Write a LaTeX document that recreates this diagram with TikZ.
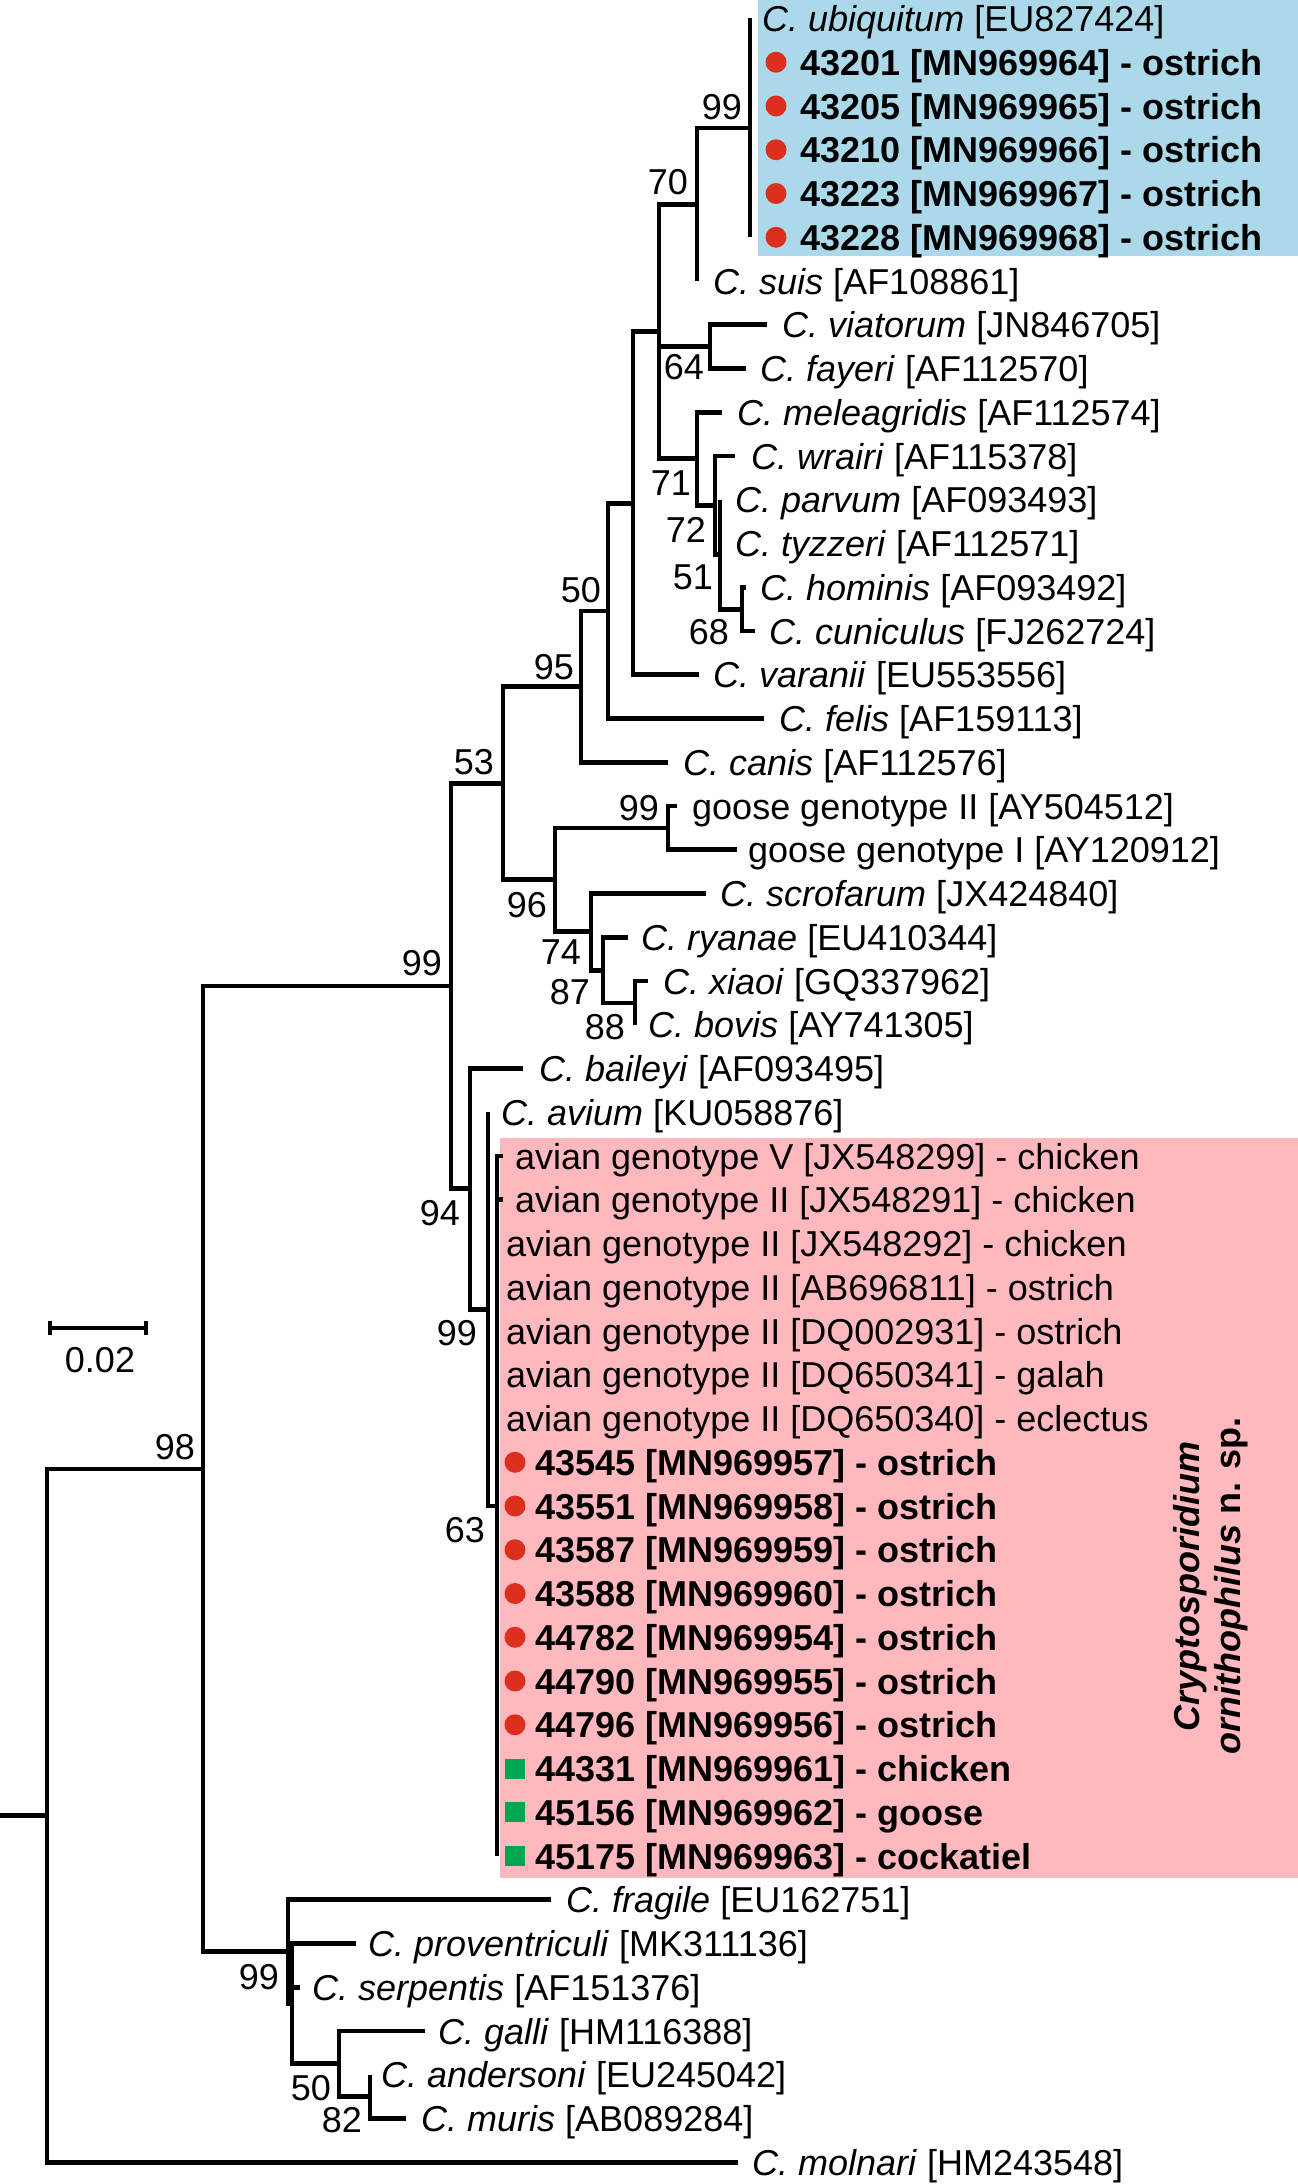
\documentclass[tikz,border=0pt]{standalone}
\usepackage{fontspec}
\setmainfont{Liberation Sans}
\usetikzlibrary{calc}

\definecolor{ubiblue}{RGB}{172,217,234}
\definecolor{orniPink}{RGB}{255,185,190}
\definecolor{dotred}{RGB}{220,47,30}
\definecolor{sqgreen}{RGB}{0,166,81}

\newcommand{\tipfont}{\fontsize{36}{41}\selectfont}
% one taxon: row, end of branch, start of label, text
\newcommand{\tip}[4]{%
  \pgfmathsetmacro{\ty}{18.5+43.75*#1}
  \coordinate (t#1) at (#2,\ty);
  \node[tiplab] (l#1) at (#3,\ty+13) {#4};
}

\begin{document}
\begin{tikzpicture}[x=1pt, y=-1pt,
    branch/.style={line width=4.8pt, line join=miter},
    tiplab/.style={anchor=base west, inner sep=0pt, font=\tipfont},
    bs/.style={anchor=east, inner sep=0pt, font=\tipfont}]
    \useasboundingbox (0,0) rectangle (1298,2184);

    % Shaded clades
    \fill[ubiblue] (758,0) rectangle (1298,256);
    \fill[orniPink] (500,1138) rectangle (1298,1878);

    % Internal nodes
    \coordinate (base) at (0,1815.6);
    \coordinate (root) at (47,1815.6);
    \coordinate (n98)  at (203,1468.9);
    \coordinate (n99b) at (451,986);
    \coordinate (n53)  at (503,783.2);
    \coordinate (n95)  at (581,686.6);
    \coordinate (n50)  at (608,610.9);
    \coordinate (nP)   at (633,503.2);
    \coordinate (nN)   at (659,331.6);
    \coordinate (n70)  at (697,204.4);
    \coordinate (n99u) at (750,127.9);
    \coordinate (n64)  at (710,346.6);
    \coordinate (n71)  at (697,458.7);
    \coordinate (nW)   at (715,505.2);
    \coordinate (n72)  at (720,554.4);
    \coordinate (n68)  at (742,609.1);
    \coordinate (n96)  at (555,879.8);
    \coordinate (n99g) at (668,827.9);
    \coordinate (n74)  at (591,931.8);
    \coordinate (n87)  at (603,970.1);
    \coordinate (n88)  at (635,1002.9);
    \coordinate (n94)  at (470,1188.8);
    \coordinate (n99a) at (488,1309.1);
    \coordinate (n63)  at (497,1506);
    \coordinate (n99f) at (288,1951.7);
    \coordinate (nY)   at (292,2003.7);
    \coordinate (nG)   at (339,2063.8);
    \coordinate (nAM)  at (370,2096.6);

    % Taxa
    \tip{0}{750}{762}{\textit{C. ubiquitum} [EU827424]}
    \tip{1}{750}{800}{\textbf{43201 [MN969964] - ostrich}}
    \tip{2}{750}{800}{\textbf{43205 [MN969965] - ostrich}}
    \tip{3}{750}{800}{\textbf{43210 [MN969966] - ostrich}}
    \tip{4}{750}{800}{\textbf{43223 [MN969967] - ostrich}}
    \tip{5}{750}{800}{\textbf{43228 [MN969968] - ostrich}}
    \tip{6}{697}{713}{\textit{C. suis} [AF108861]}
    \tip{7}{767}{782}{\textit{C. viatorum} [JN846705]}
    \tip{8}{746}{760}{\textit{C. fayeri} [AF112570]}
    \tip{9}{722}{737}{\textit{C. meleagridis} [AF112574]}
    \tip{10}{735}{751}{\textit{C. wrairi} [AF115378]}
    \tip{11}{720}{735}{\textit{C. parvum} [AF093493]}
    \tip{12}{720}{735}{\textit{C. tyzzeri} [AF112571]}
    \tip{13}{746}{760}{\textit{C. hominis} [AF093492]}
    \tip{14}{755}{769}{\textit{C. cuniculus} [FJ262724]}
    \tip{15}{699}{713}{\textit{C. varanii} [EU553556]}
    \tip{16}{764}{779}{\textit{C. felis} [AF159113]}
    \tip{17}{668}{683}{\textit{C. canis} [AF112576]}
    \tip{18}{677}{692}{goose genotype II [AY504512]}
    \tip{19}{737}{748}{goose genotype I [AY120912]}
    \tip{20}{706}{720}{\textit{C. scrofarum} [JX424840]}
    \tip{21}{628}{641}{\textit{C. ryanae} [EU410344]}
    \tip{22}{648}{663}{\textit{C. xiaoi} [GQ337962]}
    \tip{23}{635}{648}{\textit{C. bovis} [AY741305]}
    \tip{24}{523}{539}{\textit{C. baileyi} [AF093495]}
    \tip{25}{488}{501}{\textit{C. avium} [KU058876]}
    \tip{26}{503}{515}{avian genotype V [JX548299] - chicken}
    \tip{27}{503}{515}{avian genotype II [JX548291] - chicken}
    \tip{28}{497}{506}{avian genotype II [JX548292] - chicken}
    \tip{29}{497}{506}{avian genotype II [AB696811] - ostrich}
    \tip{30}{497}{506}{avian genotype II [DQ002931] - ostrich}
    \tip{31}{497}{506}{avian genotype II [DQ650341] - galah}
    \tip{32}{497}{506}{avian genotype II [DQ650340] - eclectus}
    \tip{33}{497}{535}{\textbf{43545 [MN969957] - ostrich}}
    \tip{34}{497}{535}{\textbf{43551 [MN969958] - ostrich}}
    \tip{35}{497}{535}{\textbf{43587 [MN969959] - ostrich}}
    \tip{36}{497}{535}{\textbf{43588 [MN969960] - ostrich}}
    \tip{37}{497}{535}{\textbf{44782 [MN969954] - ostrich}}
    \tip{38}{497}{535}{\textbf{44790 [MN969955] - ostrich}}
    \tip{39}{497}{535}{\textbf{44796 [MN969956] - ostrich}}
    \tip{40}{497}{535}{\textbf{44331 [MN969961] - chicken}}
    \tip{41}{497}{535}{\textbf{45156 [MN969962] - goose}}
    \tip{42}{497}{535}{\textbf{45175 [MN969963] - cockatiel}}
    \tip{43}{551}{566}{\textit{C. fragile} [EU162751]}
    \tip{44}{356}{368}{\textit{C. proventriculi} [MK311136]}
    \tip{45}{300}{312}{\textit{C. serpentis} [AF151376]}
    \tip{46}{425}{438}{\textit{C. galli} [HM116388]}
    \tip{47}{370}{381}{\textit{C. andersoni} [EU245042]}
    \tip{48}{406}{421}{\textit{C. muris} [AB089284]}
    \tip{49}{738}{752}{\textit{C. molnari} [HM243548]}

    % Backbone
    \draw[branch] (base) -- (root);
    \draw[branch] (root) |- (n98);
    \draw[branch] (root) |- (t49);
    \draw[branch] (n98) |- (n99b);
    \draw[branch] (n98) |- (n99f);

    % C. fragile group
    \draw[branch] (n99f) |- (t43);
    \draw[branch] (n99f) |- (nY);
    \foreach \c in {t44,t45,nG}
        \draw[branch] (nY) |- (\c);
    \draw[branch] (nG) |- (t46);
    \draw[branch] (nG) |- (nAM);
    \draw[branch] (nAM) -- (t47);
    \draw[branch] (nAM) |- (t48);

    % intestinal and gastric species
    \draw[branch] (n99b) |- (n53);
    \draw[branch] (n99b) |- (n94);
    \draw[branch] (n53) |- (n95);
    \draw[branch] (n53) |- (n96);
    \draw[branch] (n95) |- (n50);
    \draw[branch] (n95) |- (t17);
    \draw[branch] (n50) |- (nP);
    \draw[branch] (n50) |- (t16);
    \draw[branch] (nP) |- (nN);
    \draw[branch] (nP) |- (t15);
    \foreach \c in {n70,n64,n71}
        \draw[branch] (nN) |- (\c);
    \draw[branch] (n70) |- (n99u);
    \draw[branch] (n70) -- (t6);
    \foreach \c in {t0,t5}
        \draw[branch] (n99u) -- (\c);
    \draw[branch] (n64) |- (t7);
    \draw[branch] (n64) |- (t8);
    \draw[branch] (n71) |- (t9);
    \draw[branch] (n71) |- (nW);
    \draw[branch] (nW) |- (t10);
    \draw[branch] (nW) |- (n72);
    \draw[branch] (n72) -- (t11);
    \draw[branch] (n72) |- (n68);
    \draw[branch] (n68) |- (t13);
    \draw[branch] (n68) |- (t14);
    \draw[branch] (n96) |- (n99g);
    \draw[branch] (n96) |- (n74);
    \draw[branch] (n99g) |- (t18);
    \draw[branch] (n99g) |- (t19);
    \draw[branch] (n74) |- (t20);
    \draw[branch] (n74) |- (n87);
    \draw[branch] (n87) |- (t21);
    \draw[branch] (n87) |- (n88);
    \draw[branch] (n88) |- (t22);
    \draw[branch] (n88) -- (t23);

    % avian clade
    \draw[branch] (n94) |- (t24);
    \draw[branch] (n94) |- (n99a);
    \draw[branch] (n99a) -- (t25);
    \draw[branch] (n99a) |- (n63);
    \draw[branch] (n63) |- (t26);
    \draw[branch] (n63) |- (t27);
    \draw[branch] (n63) -- (t42);

    % Markers
    \foreach \r in {1,...,5}
        \fill[dotred] (776,18.5+43.75*\r) circle (10.5pt);
    \foreach \r in {33,...,39}
        \fill[dotred] (515,18.5+43.75*\r) circle (10.5pt);
    \foreach \r in {40,41,42}
        \fill[sqgreen] (505,8.5+43.75*\r) rectangle (525,28.5+43.75*\r);

    % Bootstrap values
    \node[bs] (bs98)  at (195,1447) {98};
    \node[bs] (bs99b) at (442,963) {99};
    \node[bs] (bs99f) at (279,1977) {99};
    \node[bs] (bs50g) at (331,2088) {50};
    \node[bs] (bs82)  at (362,2120) {82};
    \node[bs] (bs94)  at (460,1213) {94};
    \node[bs] (bs99a) at (477,1333) {99};
    \node[bs] (bs63)  at (485,1530) {63};
    \node[bs] (bs53)  at (494,762) {53};
    \node[bs] (bs95)  at (574,667) {95};
    \node[bs] (bs50)  at (601,590) {50};
    \node[bs] (bs70)  at (688,182) {70};
    \node[bs] (bs99u) at (742,107) {99};
    \node[bs] (bs64)  at (704,367) {64};
    \node[bs] (bs71)  at (691,483) {71};
    \node[bs] (bs72)  at (706,530) {72};
    \node[bs] (bs51)  at (713,577) {51};
    \node[bs] (bs68)  at (729,632) {68};
    \node[bs] (bs96)  at (547,905) {96};
    \node[bs] (bs99g) at (659,808) {99};
    \node[bs] (bs74)  at (581,952) {74};
    \node[bs] (bs87)  at (590,992) {87};
    \node[bs] (bs88)  at (625,1027) {88};

    % Scale bar
    \coordinate (sbl) at (50,1328);
    \coordinate (sbr) at (146,1328);
    \draw[branch] (sbl) -- (sbr);
    \draw[branch] ($(sbl)+(0,-7)$) -- ($(sbl)+(0,7)$);
    \draw[branch] ($(sbr)+(0,-7)$) -- ($(sbr)+(0,7)$);
    \node[font=\tipfont, inner sep=0pt] (sblab) at (100,1360) {0.02};

    % New species name
    \node[rotate=90, align=center, inner sep=0pt, font=\tipfont] (species) at (1211,1586)
        {\textbf{\textit{Cryptosporidium}}\\ \textbf{\textit{ornithophilus} n. sp.}};
\end{tikzpicture}
\end{document}
